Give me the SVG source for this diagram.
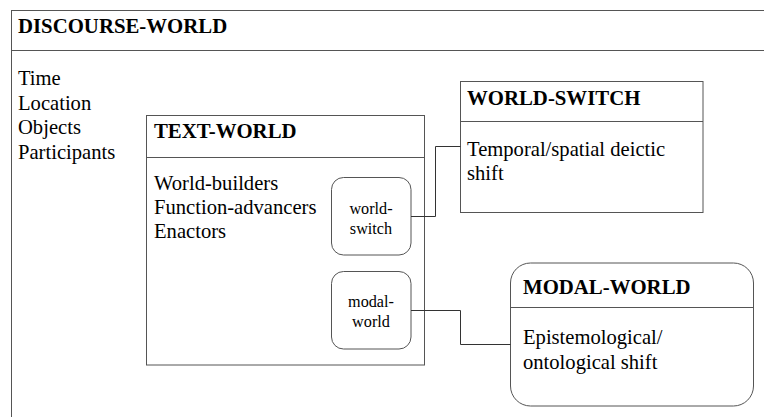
<svg xmlns="http://www.w3.org/2000/svg" width="764" height="417" viewBox="0 0 764 417">
  <style>
    .box { fill: #ffffff; stroke: #555555; stroke-width: 1; }
    .div { stroke: #555555; stroke-width: 1; fill: none; }
    .wire { stroke: #333333; stroke-width: 1; fill: none; }
    .title { font-family: "Liberation Serif", "Times New Roman", serif; font-weight: bold; font-size: 20.8px; fill: #000000; }
    .body { font-family: "Liberation Serif", "Times New Roman", serif; font-size: 20.6px; fill: #000000; }
    .small { font-family: "Liberation Serif", "Times New Roman", serif; font-size: 16.2px; fill: #000000; text-anchor: middle; }
  </style>
  <rect width="764" height="417" fill="#ffffff"/>

  <!-- outer discourse world, runs past the right and bottom edges -->
  <g id="discourse-world">
    <rect class="box" x="11.5" y="10.5" width="800" height="460"/>
    <line class="div" x1="11.5" y1="50.5" x2="811.5" y2="50.5"/>
    <text class="title" x="18" y="33">DISCOURSE-WORLD</text>
    <text class="body" x="18" y="85">Time</text>
    <text class="body" x="18" y="109.5">Location</text>
    <text class="body" x="18" y="134">Objects</text>
    <text class="body" x="18" y="158.5">Participants</text>
  </g>

  <g id="text-world">
    <rect class="box" x="146.5" y="115.5" width="278" height="249.5"/>
    <line class="div" x1="146.5" y1="157.5" x2="424.5" y2="157.5"/>
    <text class="title" x="154" y="138">TEXT-WORLD</text>
    <text class="body" x="154" y="189.5">World-builders</text>
    <text class="body" x="154" y="213.5">Function-advancers</text>
    <text class="body" x="154" y="238">Enactors</text>
  </g>

  <g id="world-switch-marker">
    <rect class="box" x="331.5" y="177.5" width="79.5" height="77.5" rx="12" ry="12"/>
    <text class="small" x="371" y="213.5">world-</text>
    <text class="small" x="371" y="233.5">switch</text>
  </g>

  <g id="modal-world-marker">
    <rect class="box" x="331.5" y="271.5" width="79.5" height="77.5" rx="12" ry="12"/>
    <text class="small" x="371" y="306.5">modal-</text>
    <text class="small" x="371" y="326.5">world</text>
  </g>

  <g id="world-switch">
    <rect class="box" x="460.5" y="81.5" width="242.5" height="131"/>
    <line class="div" x1="460.5" y1="121.5" x2="703" y2="121.5"/>
    <text class="title" x="467" y="105">WORLD-SWITCH</text>
    <text class="body" x="467" y="155.5">Temporal/spatial deictic</text>
    <text class="body" x="467" y="180">shift</text>
  </g>

  <g id="modal-world">
    <rect class="box" x="510.5" y="263" width="243" height="143" rx="20" ry="20"/>
    <line class="div" x1="510.5" y1="307.5" x2="753.5" y2="307.5"/>
    <text class="title" x="523" y="293.5">MODAL-WORLD</text>
    <text class="body" x="523" y="344">Epistemological/</text>
    <text class="body" x="523" y="368.5">ontological shift</text>
  </g>

  <g id="connectors">
    <polyline class="wire" points="411,216.5 435.5,216.5 435.5,146.5 460.5,146.5"/>
    <polyline class="wire" points="411,310.5 460.5,310.5 460.5,344.5 510.5,344.5"/>
  </g>
</svg>
